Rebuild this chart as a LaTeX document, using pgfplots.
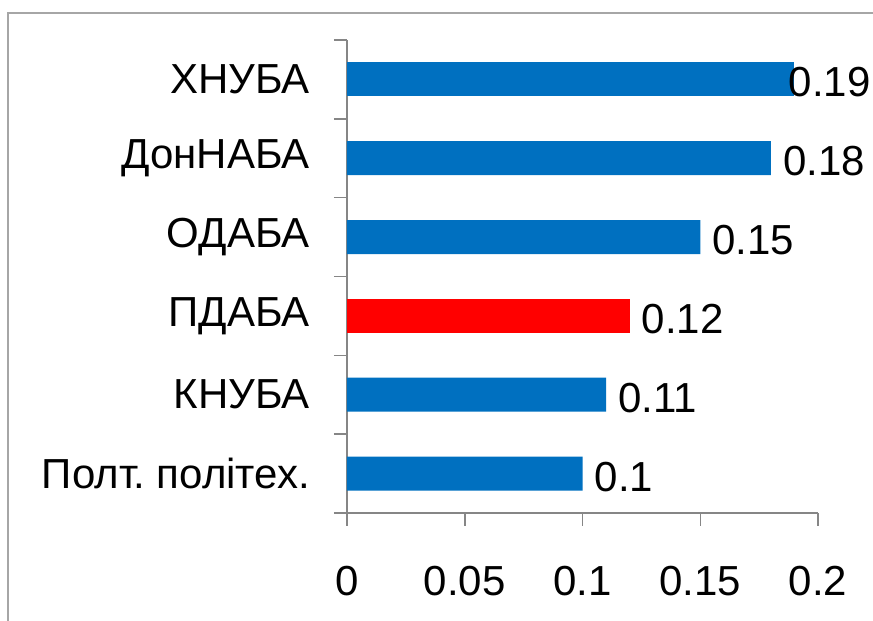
\documentclass[border=0pt]{standalone}
\usepackage{pgfplots}
\pgfplotsset{compat=1.18}
\usepackage{fontspec}
\setmainfont{Liberation Sans}
\definecolor{barblue}{HTML}{0070C0}
\definecolor{barred}{HTML}{FF0000}
\definecolor{axgray}{HTML}{868686}
\definecolor{framegray}{HTML}{A6A6A6}
\newcommand\bigf{\fontsize{42}{50}\selectfont}
\begin{document}
\begin{tikzpicture}[x=1pt,y=1pt]
\useasboundingbox (0,0) rectangle (873,621);
\draw[framegray, line width=1.5pt] (8,608) rectangle (940,-40);
\begin{axis}[
  at={(347pt,108pt)}, anchor=south west,
  scale only axis, width=471pt, height=473pt,
  xmin=0, xmax=0.2, ymin=-0.5, ymax=5.5,
  clip=false,
  axis x line*=bottom, axis y line*=left,
  axis line style={draw=axgray, line width=1.5pt, -},
  tick style={draw=axgray, line width=1.5pt},
  tick align=outside, major tick length=13pt,
  xtick={0,0.05,0.1,0.15,0.2},
  xticklabels={0,0.05,0.1,0.15,0.2},
  ytick={-0.5,0.5,1.5,2.5,3.5,4.5,5.5},
  y tick label as interval,
  yticklabels={{Полт.\ політех.},{КНУБА},{ПДАБА},{ОДАБА},{ДонНАБА},{ХНУБА}},
  ticklabel style={font=\bigf, text=black},
  xticklabel style={inner sep=0pt, yshift=-40pt},
  yticklabel style={inner sep=0pt, xshift=-24pt},
  xbar, bar width=34pt, bar shift=0pt,
  point meta=x,
  nodes near coords={\pgfmathprintnumber[fixed,precision=2,assume math mode=true]{\pgfplotspointmeta}},
  nodes near coords align={horizontal},
  every node near coord/.style={font=\bigf, text=black, anchor=west, inner sep=0pt, xshift=12pt, yshift=-3pt},
]
\addplot[draw=none, fill=barblue] coordinates {(0.1,0) (0.11,1) (0.15,3) (0.18,4)};
\addplot[draw=none, fill=barred] coordinates {(0.12,2)};
\addplot[draw=none, fill=barblue, every node near coord/.append style={xshift=-18pt}] coordinates {(0.19,5)};
\end{axis}
\end{tikzpicture}
\end{document}
